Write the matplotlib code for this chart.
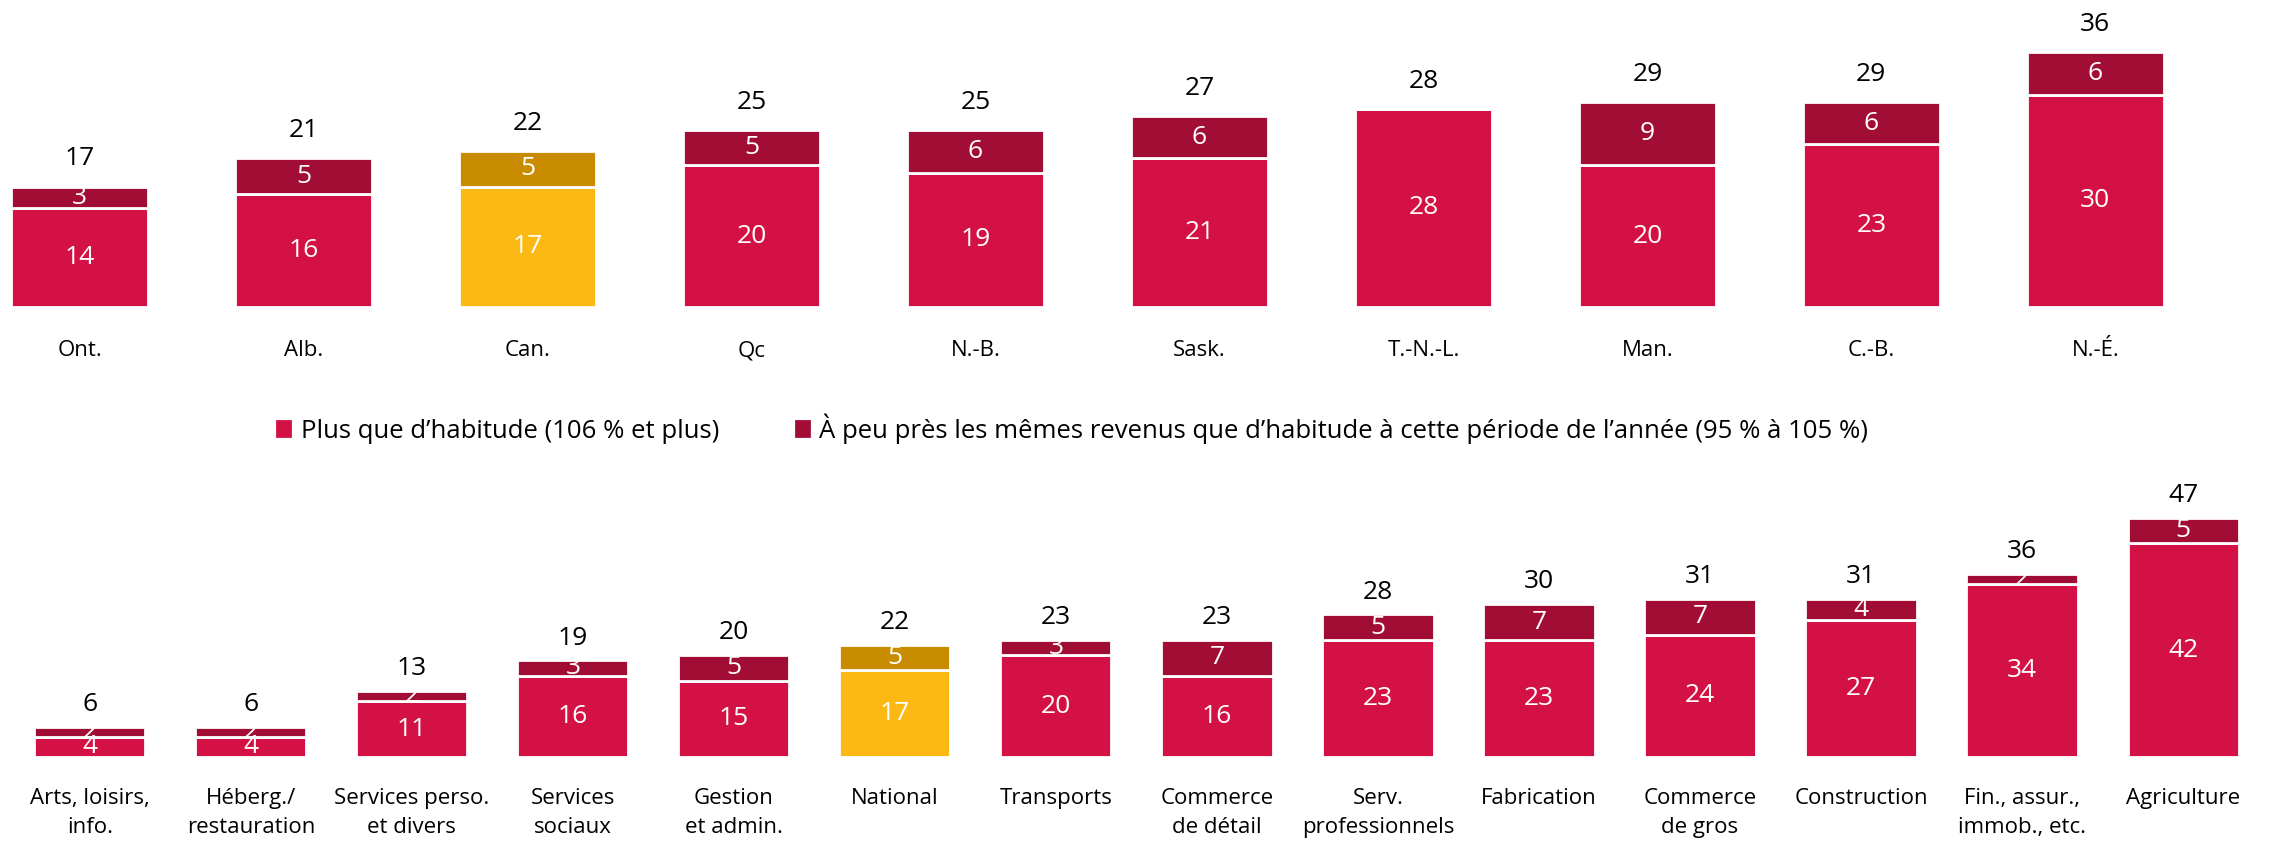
import matplotlib.pyplot as plt
import numpy as np

plt.rcParams['font.family'] = ['Open Sans', 'DejaVu Sans']

# provinces
prov = ["Ont.", "Alb.", "Can.", "Qc", "N.-B.", "Sask.", "T.-N.-L.", "Man.", "C.-B.", "N.-É."]
prov_plus = [14, 16, 17, 20, 19, 21, 28, 20, 23, 30]
prov_same = [3, 5, 5, 5, 6, 6, 0, 9, 6, 6]
prov_total = [17, 21, 22, 25, 25, 27, 28, 29, 29, 36]

# sectors
sect = ["Arts, loisirs,\ninfo.", "Héberg./\nrestauration", "Services perso.\net divers",
        "Services\nsociaux", "Gestion\net admin.", "National", "Transports",
        "Commerce\nde détail", "Serv.\nprofessionnels", "Fabrication", "Commerce\nde gros",
        "Construction", "Fin., assur.,\nimmob., etc.", "Agriculture"]
sect_plus = [4, 4, 11, 16, 15, 17, 20, 16, 23, 23, 24, 27, 34, 42]
sect_same = [2, 2, 2, 3, 5, 5, 3, 7, 5, 7, 7, 4, 2, 5]
sect_total = [6, 6, 13, 19, 20, 22, 23, 23, 28, 30, 31, 31, 36, 47]

labels = ["Plus que d’habitude (106 % et plus)",
          "À peu près les mêmes revenus que d’habitude à cette période de l’année (95 % à 105 %)"]

RED = "#D31145"
DARK = "#A10D35"
GOLD = "#FDB913"
DGOLD = "#C98C00"

fig = plt.figure(figsize=(22.7, 8.44), dpi=100)


def draw(ax, cats, plus, same, total, hi, width, off, pad):
    x = np.arange(len(cats))
    c1 = [GOLD if c in ("Can.", "National") else RED for c in cats]
    c2 = [DGOLD if c in ("Can.", "National") else DARK for c in cats]
    b1 = ax.bar(x, plus, width, color=c1, edgecolor="white", linewidth=2, label=labels[0])
    b2 = ax.bar(x, same, width, bottom=plus, color=c2, edgecolor="white", linewidth=2, label=labels[1])
    for i in range(len(cats)):
        ax.text(x[i], plus[i] / 2, str(plus[i]), ha="center", va="center", color="white", fontsize=19)
        if same[i] > 0:
            ax.text(x[i], plus[i] + same[i] / 2, str(same[i]), ha="center", va="center",
                    color="white", fontsize=19)
        ax.annotate(str(total[i]), (x[i], plus[i] + same[i]), xytext=(0, off),
                    textcoords="offset points", ha="center", va="center", fontsize=19)
    ax.set_xticks(x)
    ax.set_xticklabels(cats, fontsize=16, linespacing=1.5)
    ax.tick_params(axis="x", length=0, pad=pad)
    ax.set_yticks([])
    ax.set_ylim(0, hi)
    for s in ax.spines.values():
        s.set_visible(False)
    return b1, b2


ax1 = fig.add_axes([0, 0.6364, 1, 0.3636])
h = draw(ax1, prov, prov_plus, prov_same, prov_total, 43.4, 0.61, 20, 24)
ax1.set_xlim(-0.356, 9.78)

ax2 = fig.add_axes([0, 0.1029, 1, 0.331])
draw(ax2, sect, sect_plus, sect_same, sect_total, 54.8, 0.69, 16, 22)
ax2.set_xlim(-0.558, 13.54)

leg = fig.legend(h, labels, loc="center", bbox_to_anchor=(0.4726, 0.4923), ncol=2,
                 frameon=False, fontsize=18.5, handlelength=0.5, handleheight=0.5,
                 columnspacing=3.0, handletextpad=0.4)
# legend patches without white edge
for p, c in zip(leg.get_patches(), [RED, DARK]):
    p.set_edgecolor(c)
    p.set_facecolor(c)

fig.savefig("out.png", dpi=100)
